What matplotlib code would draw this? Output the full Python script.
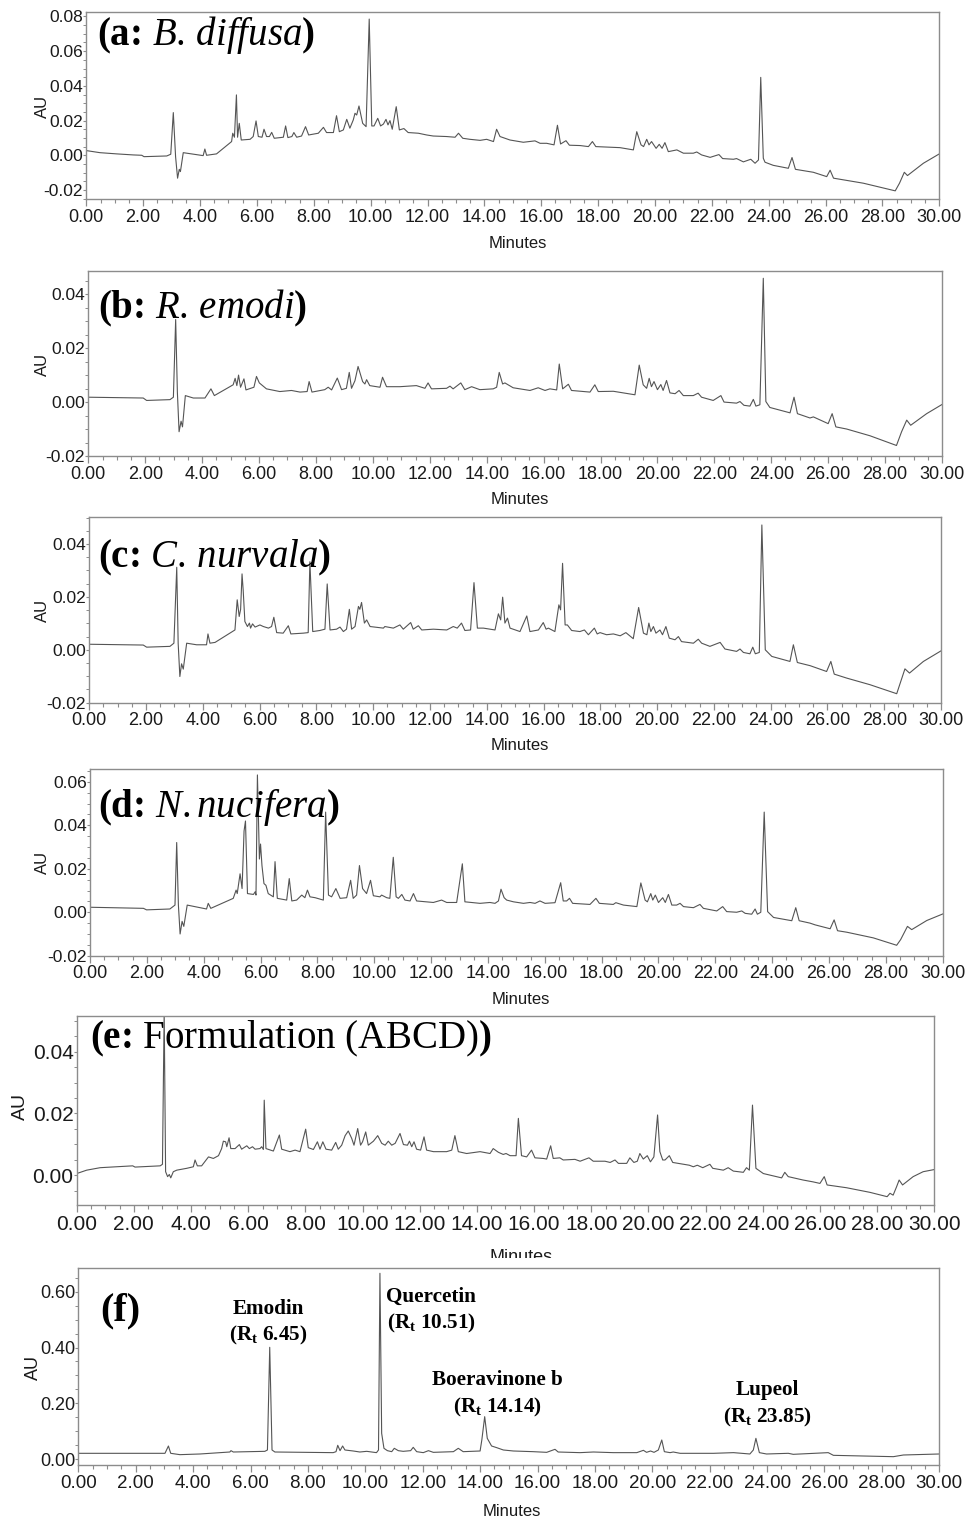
import matplotlib
matplotlib.use("Agg")
import matplotlib.pyplot as plt
from matplotlib.ticker import MultipleLocator, FuncFormatter
from matplotlib.patches import Rectangle

plt.rcParams["font.family"] = ["Liberation Sans", "DejaVu Sans"]
plt.rcParams["mathtext.fontset"] = "custom"
plt.rcParams["mathtext.rm"] = "Liberation Serif"
plt.rcParams["mathtext.it"] = "Liberation Serif:italic"
plt.rcParams["mathtext.bf"] = "Liberation Serif:bold"

# ---------------- data (retention time in minutes, absorbance in AU) ----------------
time_a = [0.00, 0.48, 1.07, 1.65, 1.95, 2.03, 2.83, 2.97, 3.06, 3.14,
          3.21, 3.27, 3.31, 3.41, 3.70, 4.11, 4.17, 4.23, 4.58, 5.11,
          5.15, 5.21, 5.28, 5.32, 5.38, 5.45, 5.76, 5.87, 5.97, 6.05,
          6.18, 6.25, 6.34, 6.44, 6.52, 6.61, 6.93, 7.01, 7.09, 7.23,
          7.30, 7.40, 7.57, 7.71, 7.82, 8.16, 8.34, 8.45, 8.69, 8.80,
          8.90, 9.04, 9.16, 9.27, 9.39, 9.45, 9.51, 9.59, 9.72, 9.84,
          9.95, 10.04, 10.12, 10.25, 10.35, 10.45, 10.54, 10.61, 10.68, 10.76,
          10.90, 11.01, 11.17, 11.32, 11.68, 11.97, 12.20, 12.67, 12.97, 13.09,
          13.24, 13.49, 13.85, 14.08, 14.32, 14.43, 14.55, 14.73, 14.90, 15.37,
          15.78, 15.96, 16.19, 16.45, 16.57, 16.68, 16.87, 16.99, 17.37, 17.66,
          17.80, 17.92, 18.77, 19.24, 19.36, 19.51, 19.60, 19.71, 19.79, 19.88,
          20.04, 20.15, 20.25, 20.35, 20.47, 20.77, 21.00, 21.35, 21.47, 21.64,
          21.94, 22.25, 22.38, 22.76, 22.87, 23.11, 23.37, 23.52, 23.64, 23.72,
          23.81, 23.87, 24.16, 24.69, 24.82, 24.94, 25.57, 26.04, 26.16, 26.28,
          27.33, 28.45, 28.60, 28.77, 28.88, 29.44, 30.00]
au_a = [0.0027, 0.0015, 0.0008, 0.0002, 0.0000, -0.0008, -0.0004, 0.0006, 0.0246, -0.0008,
        -0.0132, -0.0081, -0.0094, 0.0015, 0.0008, -0.0002, 0.0036, 0.0000, 0.0008, 0.0079,
        0.0127, 0.0104, 0.0348, 0.0104, 0.0184, 0.0088, 0.0092, 0.0108, 0.0198, 0.0108,
        0.0104, 0.0150, 0.0108, 0.0108, 0.0132, 0.0098, 0.0104, 0.0169, 0.0102, 0.0108,
        0.0131, 0.0104, 0.0111, 0.0165, 0.0117, 0.0127, 0.0161, 0.0131, 0.0131, 0.0228,
        0.0136, 0.0146, 0.0207, 0.0156, 0.0204, 0.0242, 0.0232, 0.0284, 0.0184, 0.0165,
        0.0785, 0.0169, 0.0169, 0.0213, 0.0169, 0.0180, 0.0207, 0.0175, 0.0200, 0.0150,
        0.0280, 0.0146, 0.0154, 0.0131, 0.0127, 0.0117, 0.0111, 0.0108, 0.0104, 0.0127,
        0.0098, 0.0092, 0.0086, 0.0092, 0.0079, 0.0150, 0.0108, 0.0098, 0.0088, 0.0075,
        0.0083, 0.0069, 0.0069, 0.0060, 0.0173, 0.0065, 0.0084, 0.0058, 0.0056, 0.0050,
        0.0079, 0.0050, 0.0044, 0.0031, 0.0136, 0.0060, 0.0050, 0.0092, 0.0060, 0.0079,
        0.0040, 0.0063, 0.0040, 0.0073, 0.0021, 0.0031, 0.0012, 0.0012, 0.0019, 0.0002,
        -0.0012, 0.0004, -0.0019, -0.0023, -0.0019, -0.0038, -0.0023, -0.0046, -0.0027, 0.0449,
        -0.0017, -0.0040, -0.0058, -0.0075, -0.0013, -0.0081, -0.0098, -0.0123, -0.0086, -0.0132,
        -0.0161, -0.0205, -0.0161, -0.0098, -0.0117, -0.0046, 0.0008]

time_b = [0.00, 1.93, 2.05, 2.87, 2.99, 3.07, 3.13, 3.19, 3.26, 3.31,
          3.41, 3.69, 4.10, 4.31, 4.43, 5.09, 5.16, 5.22, 5.28, 5.35,
          5.47, 5.54, 5.82, 5.91, 6.01, 6.26, 6.73, 7.14, 7.44, 7.69,
          7.76, 7.86, 8.31, 8.43, 8.55, 8.75, 8.90, 9.07, 9.17, 9.25,
          9.37, 9.48, 9.64, 9.72, 9.78, 9.89, 10.25, 10.34, 10.48, 10.95,
          11.53, 11.83, 11.94, 12.06, 12.59, 12.71, 12.82, 13.09, 13.23, 13.47,
          13.76, 14.23, 14.35, 14.44, 14.56, 14.64, 14.93, 15.52, 15.81, 16.05,
          16.22, 16.46, 16.55, 16.67, 16.87, 16.98, 17.63, 17.80, 17.92, 18.45,
          18.80, 19.21, 19.36, 19.50, 19.62, 19.71, 19.79, 19.88, 20.00, 20.12,
          20.20, 20.32, 20.44, 20.62, 20.76, 20.91, 21.26, 21.43, 21.55, 21.96,
          22.23, 22.34, 22.78, 22.90, 23.04, 23.25, 23.37, 23.46, 23.60, 23.72,
          23.81, 23.95, 24.66, 24.80, 24.92, 25.36, 25.48, 26.00, 26.14, 26.27,
          26.65, 27.47, 28.40, 28.58, 28.76, 28.90, 29.46, 30.00]
au_b = [0.0018, 0.0015, 0.0006, 0.0009, 0.0018, 0.0306, 0.0037, -0.0110, -0.0071, -0.0092,
        0.0024, 0.0015, 0.0015, 0.0049, 0.0024, 0.0064, 0.0088, 0.0061, 0.0100, 0.0055,
        0.0086, 0.0045, 0.0055, 0.0095, 0.0071, 0.0049, 0.0039, 0.0043, 0.0037, 0.0039,
        0.0076, 0.0037, 0.0046, 0.0055, 0.0045, 0.0089, 0.0046, 0.0051, 0.0110, 0.0051,
        0.0079, 0.0132, 0.0076, 0.0067, 0.0083, 0.0061, 0.0055, 0.0092, 0.0057, 0.0057,
        0.0061, 0.0051, 0.0071, 0.0049, 0.0051, 0.0059, 0.0049, 0.0071, 0.0046, 0.0057,
        0.0046, 0.0049, 0.0055, 0.0110, 0.0067, 0.0071, 0.0053, 0.0043, 0.0053, 0.0043,
        0.0049, 0.0045, 0.0141, 0.0049, 0.0066, 0.0043, 0.0037, 0.0064, 0.0039, 0.0040,
        0.0034, 0.0027, 0.0137, 0.0064, 0.0051, 0.0088, 0.0057, 0.0076, 0.0046, 0.0065,
        0.0043, 0.0080, 0.0034, 0.0031, 0.0043, 0.0024, 0.0024, 0.0033, 0.0018, 0.0006,
        0.0024, 0.0000, -0.0004, 0.0002, -0.0012, -0.0015, 0.0010, -0.0015, -0.0010, 0.0459,
        0.0002, -0.0020, -0.0040, 0.0018, -0.0043, -0.0059, -0.0055, -0.0080, -0.0043, -0.0092,
        -0.0100, -0.0125, -0.0161, -0.0110, -0.0067, -0.0086, -0.0043, -0.0009]

time_c = [0.00, 1.90, 2.02, 2.84, 2.98, 3.08, 3.13, 3.19, 3.25, 3.31,
          3.43, 3.78, 4.13, 4.18, 4.25, 4.43, 5.13, 5.21, 5.28, 5.33,
          5.38, 5.42, 5.48, 5.57, 5.64, 5.68, 5.75, 5.84, 6.01, 6.13,
          6.31, 6.42, 6.50, 6.60, 6.83, 7.01, 7.10, 7.54, 7.71, 7.77,
          7.87, 8.12, 8.30, 8.38, 8.48, 8.71, 8.83, 8.95, 9.06, 9.16,
          9.24, 9.36, 9.48, 9.53, 9.59, 9.69, 9.77, 9.89, 10.36, 10.41,
          10.71, 10.94, 11.06, 11.32, 11.41, 11.59, 11.71, 12.12, 12.59, 12.82,
          12.96, 13.11, 13.23, 13.43, 13.55, 13.67, 13.76, 13.88, 14.29, 14.41,
          14.49, 14.56, 14.64, 14.73, 14.82, 15.17, 15.41, 15.52, 15.82, 15.99,
          16.09, 16.17, 16.40, 16.54, 16.60, 16.67, 16.76, 16.84, 16.99, 17.28,
          17.44, 17.58, 17.79, 17.89, 17.99, 18.22, 18.46, 18.70, 18.90, 19.16,
          19.35, 19.52, 19.64, 19.71, 19.78, 19.87, 19.96, 20.10, 20.19, 20.31,
          20.43, 20.63, 20.75, 20.86, 21.28, 21.45, 21.57, 21.86, 22.22, 22.39,
          22.80, 22.92, 23.04, 23.27, 23.37, 23.46, 23.60, 23.69, 23.81, 24.04,
          24.68, 24.80, 24.94, 25.39, 25.97, 26.12, 26.24, 26.68, 27.50, 28.44,
          28.58, 28.73, 28.89, 29.38, 30.00]
au_c = [0.0021, 0.0018, 0.0010, 0.0013, 0.0025, 0.0312, 0.0025, -0.0101, -0.0053, -0.0073,
        0.0025, 0.0019, 0.0019, 0.0060, 0.0025, 0.0028, 0.0075, 0.0189, 0.0126, 0.0153,
        0.0287, 0.0226, 0.0107, 0.0088, 0.0101, 0.0082, 0.0098, 0.0086, 0.0094, 0.0088,
        0.0082, 0.0088, 0.0123, 0.0065, 0.0063, 0.0091, 0.0060, 0.0063, 0.0065, 0.0333,
        0.0069, 0.0073, 0.0078, 0.0249, 0.0075, 0.0078, 0.0086, 0.0069, 0.0078, 0.0153,
        0.0078, 0.0088, 0.0164, 0.0153, 0.0179, 0.0101, 0.0113, 0.0088, 0.0082, 0.0088,
        0.0082, 0.0094, 0.0078, 0.0103, 0.0078, 0.0091, 0.0075, 0.0078, 0.0075, 0.0088,
        0.0082, 0.0101, 0.0073, 0.0075, 0.0254, 0.0082, 0.0082, 0.0082, 0.0075, 0.0136,
        0.0113, 0.0199, 0.0101, 0.0120, 0.0082, 0.0069, 0.0128, 0.0069, 0.0075, 0.0103,
        0.0078, 0.0082, 0.0069, 0.0170, 0.0151, 0.0327, 0.0094, 0.0094, 0.0073, 0.0069,
        0.0075, 0.0057, 0.0082, 0.0060, 0.0065, 0.0057, 0.0060, 0.0053, 0.0065, 0.0042,
        0.0160, 0.0063, 0.0057, 0.0101, 0.0069, 0.0088, 0.0063, 0.0075, 0.0057, 0.0088,
        0.0044, 0.0038, 0.0050, 0.0031, 0.0025, 0.0040, 0.0025, 0.0013, 0.0028, 0.0003,
        -0.0006, 0.0003, -0.0010, -0.0015, 0.0010, -0.0015, -0.0010, 0.0472, 0.0000, -0.0025,
        -0.0044, 0.0019, -0.0048, -0.0060, -0.0082, -0.0044, -0.0092, -0.0107, -0.0132, -0.0166,
        -0.0120, -0.0072, -0.0088, -0.0044, -0.0004]

time_d = [0.00, 1.88, 1.99, 2.81, 2.99, 3.05, 3.11, 3.17, 3.24, 3.30,
          3.42, 3.87, 4.10, 4.16, 4.25, 5.04, 5.14, 5.18, 5.28, 5.35,
          5.42, 5.47, 5.54, 5.75, 5.81, 5.84, 5.89, 5.96, 6.00, 6.05,
          6.12, 6.19, 6.27, 6.45, 6.51, 6.59, 6.92, 7.01, 7.10, 7.27,
          7.45, 7.56, 7.65, 7.74, 7.92, 8.21, 8.29, 8.39, 8.50, 8.65,
          8.80, 9.03, 9.17, 9.26, 9.38, 9.48, 9.59, 9.73, 9.87, 9.97,
          10.20, 10.26, 10.44, 10.55, 10.67, 10.77, 10.85, 10.97, 11.08, 11.26,
          11.38, 11.49, 12.08, 12.37, 12.55, 12.90, 13.10, 13.19, 13.49, 13.72,
          14.07, 14.25, 14.37, 14.46, 14.57, 14.66, 14.90, 15.25, 15.48, 15.66,
          15.83, 16.01, 16.36, 16.56, 16.65, 16.77, 16.87, 16.98, 17.59, 17.80,
          17.92, 18.41, 18.50, 18.77, 19.24, 19.38, 19.53, 19.61, 19.73, 19.80,
          19.89, 20.00, 20.15, 20.24, 20.35, 20.47, 20.64, 20.76, 20.88, 21.23,
          21.46, 21.58, 22.05, 22.26, 22.40, 22.75, 22.93, 23.05, 23.28, 23.40,
          23.48, 23.60, 23.72, 23.84, 24.05, 24.69, 24.83, 24.95, 25.33, 25.51,
          26.04, 26.18, 26.30, 26.63, 27.56, 28.38, 28.52, 28.76, 28.91, 29.44,
          30.00]
au_d = [0.0023, 0.0018, 0.0011, 0.0015, 0.0033, 0.0321, 0.0033, -0.0100, -0.0042, -0.0065,
        0.0033, 0.0021, 0.0015, 0.0041, 0.0018, 0.0064, 0.0102, 0.0086, 0.0177, 0.0109,
        0.0374, 0.0420, 0.0086, 0.0082, 0.0094, 0.0079, 0.0632, 0.0245, 0.0314, 0.0215,
        0.0132, 0.0124, 0.0086, 0.0071, 0.0233, 0.0064, 0.0056, 0.0155, 0.0052, 0.0056,
        0.0079, 0.0067, 0.0102, 0.0071, 0.0067, 0.0056, 0.0461, 0.0079, 0.0071, 0.0109,
        0.0064, 0.0067, 0.0147, 0.0064, 0.0079, 0.0215, 0.0109, 0.0086, 0.0147, 0.0076,
        0.0071, 0.0079, 0.0067, 0.0064, 0.0253, 0.0071, 0.0064, 0.0082, 0.0056, 0.0052,
        0.0086, 0.0052, 0.0045, 0.0056, 0.0045, 0.0045, 0.0223, 0.0048, 0.0044, 0.0041,
        0.0045, 0.0041, 0.0052, 0.0106, 0.0067, 0.0056, 0.0048, 0.0041, 0.0045, 0.0041,
        0.0052, 0.0041, 0.0044, 0.0136, 0.0052, 0.0052, 0.0064, 0.0041, 0.0036, 0.0064,
        0.0041, 0.0036, 0.0044, 0.0033, 0.0026, 0.0135, 0.0056, 0.0048, 0.0086, 0.0056,
        0.0079, 0.0045, 0.0067, 0.0045, 0.0082, 0.0033, 0.0033, 0.0041, 0.0026, 0.0021,
        0.0036, 0.0018, 0.0006, 0.0026, 0.0003, 0.0000, 0.0006, -0.0005, -0.0009, 0.0015,
        -0.0009, 0.0000, 0.0461, 0.0003, -0.0024, -0.0039, 0.0021, -0.0039, -0.0050, -0.0058,
        -0.0076, -0.0035, -0.0085, -0.0092, -0.0118, -0.0152, -0.0126, -0.0065, -0.0080, -0.0038,
        -0.0008]

time_e = [0.00, 0.35, 0.82, 1.40, 1.96, 2.04, 2.92, 3.00, 3.06, 3.11,
          3.18, 3.24, 3.29, 3.38, 3.50, 3.85, 4.08, 4.14, 4.22, 4.37,
          4.61, 4.78, 4.96, 5.07, 5.13, 5.21, 5.25, 5.33, 5.39, 5.54,
          5.69, 5.77, 5.95, 6.04, 6.15, 6.24, 6.41, 6.47, 6.53, 6.56,
          6.62, 6.88, 7.09, 7.17, 7.46, 7.64, 7.81, 8.01, 8.10, 8.28,
          8.42, 8.51, 8.61, 8.72, 8.92, 9.06, 9.15, 9.27, 9.39, 9.50,
          9.62, 9.70, 9.83, 9.93, 10.00, 10.11, 10.20, 10.38, 10.53, 10.67,
          10.79, 10.90, 11.02, 11.14, 11.31, 11.43, 11.57, 11.64, 11.72, 11.80,
          11.89, 12.03, 12.15, 12.24, 12.48, 12.94, 13.12, 13.23, 13.35, 13.64,
          14.11, 14.46, 14.57, 14.75, 14.92, 15.02, 15.16, 15.37, 15.45, 15.56,
          15.74, 15.91, 16.03, 16.32, 16.44, 16.58, 16.67, 16.90, 17.02, 17.43,
          17.61, 17.92, 18.07, 18.48, 18.66, 18.83, 18.95, 19.24, 19.35, 19.49,
          19.61, 19.70, 19.82, 19.96, 20.07, 20.19, 20.32, 20.40, 20.50, 20.58,
          20.73, 20.85, 21.04, 21.22, 21.43, 21.57, 21.71, 21.90, 22.15, 22.25,
          22.62, 22.79, 22.97, 23.32, 23.43, 23.53, 23.64, 23.76, 24.02, 24.66,
          24.77, 24.89, 25.41, 25.76, 26.00, 26.15, 26.25, 26.93, 27.75, 28.35,
          28.45, 28.56, 28.68, 28.77, 28.89, 29.26, 29.61, 30.00]
au_e = [0.0005, 0.0016, 0.0024, 0.0027, 0.0030, 0.0026, 0.0030, 0.0035, 0.0530, 0.0011,
        -0.0005, 0.0002, -0.0009, 0.0011, 0.0016, 0.0022, 0.0027, 0.0049, 0.0030, 0.0030,
        0.0059, 0.0054, 0.0063, 0.0086, 0.0110, 0.0108, 0.0092, 0.0121, 0.0086, 0.0086,
        0.0099, 0.0084, 0.0095, 0.0086, 0.0092, 0.0084, 0.0086, 0.0092, 0.0083, 0.0243,
        0.0086, 0.0078, 0.0130, 0.0084, 0.0076, 0.0081, 0.0076, 0.0149, 0.0089, 0.0083,
        0.0108, 0.0084, 0.0108, 0.0084, 0.0081, 0.0106, 0.0084, 0.0097, 0.0128, 0.0143,
        0.0119, 0.0097, 0.0151, 0.0097, 0.0108, 0.0140, 0.0097, 0.0110, 0.0128, 0.0103,
        0.0097, 0.0110, 0.0097, 0.0103, 0.0135, 0.0099, 0.0097, 0.0110, 0.0092, 0.0108,
        0.0084, 0.0081, 0.0124, 0.0081, 0.0076, 0.0076, 0.0081, 0.0128, 0.0076, 0.0070,
        0.0076, 0.0070, 0.0086, 0.0074, 0.0067, 0.0070, 0.0063, 0.0063, 0.0184, 0.0063,
        0.0059, 0.0081, 0.0056, 0.0054, 0.0052, 0.0095, 0.0054, 0.0056, 0.0049, 0.0051,
        0.0045, 0.0056, 0.0045, 0.0045, 0.0041, 0.0049, 0.0038, 0.0038, 0.0056, 0.0041,
        0.0045, 0.0070, 0.0052, 0.0063, 0.0043, 0.0059, 0.0195, 0.0076, 0.0049, 0.0049,
        0.0063, 0.0041, 0.0038, 0.0035, 0.0032, 0.0027, 0.0032, 0.0024, 0.0035, 0.0022,
        0.0016, 0.0024, 0.0013, 0.0009, 0.0024, 0.0016, 0.0227, 0.0022, 0.0005, -0.0009,
        0.0009, -0.0005, -0.0016, -0.0022, -0.0027, -0.0005, -0.0032, -0.0041, -0.0056, -0.0070,
        -0.0059, -0.0065, -0.0038, -0.0016, -0.0032, -0.0005, 0.0011, 0.0018]

time_f = [0.00, 3.02, 3.14, 3.22, 3.54, 4.24, 5.28, 5.32, 5.40, 6.50,
          6.59, 6.67, 6.75, 6.85, 8.88, 8.98, 9.04, 9.12, 9.21, 9.29,
          9.58, 9.81, 10.05, 10.39, 10.46, 10.51, 10.57, 10.65, 10.77, 10.92,
          11.01, 11.15, 11.32, 11.58, 11.67, 11.79, 12.02, 12.20, 12.37, 13.07,
          13.24, 13.41, 14.00, 14.06, 14.16, 14.25, 14.40, 14.58, 14.81, 15.16,
          15.85, 16.32, 16.61, 16.72, 17.48, 17.95, 18.64, 19.46, 19.69, 19.80,
          19.94, 20.06, 20.21, 20.33, 20.42, 20.62, 20.73, 20.97, 22.13, 22.83,
          23.40, 23.52, 23.61, 23.73, 23.98, 24.74, 24.91, 26.13, 26.31, 27.35,
          28.40, 28.75, 30.00]
au_f = [0.0215, 0.0215, 0.0477, 0.0215, 0.0167, 0.0191, 0.0262, 0.0310, 0.0262, 0.0286,
        0.0334, 0.4007, 0.0334, 0.0262, 0.0239, 0.0274, 0.0501, 0.0310, 0.0477, 0.0334,
        0.0298, 0.0262, 0.0286, 0.0239, 0.0334, 0.6655, 0.0930, 0.0394, 0.0310, 0.0274,
        0.0394, 0.0310, 0.0286, 0.0310, 0.0429, 0.0274, 0.0239, 0.0310, 0.0250, 0.0274,
        0.0394, 0.0274, 0.0298, 0.0692, 0.1526, 0.0751, 0.0477, 0.0417, 0.0334, 0.0298,
        0.0274, 0.0250, 0.0358, 0.0262, 0.0239, 0.0262, 0.0239, 0.0239, 0.0322, 0.0250,
        0.0298, 0.0250, 0.0334, 0.0692, 0.0274, 0.0239, 0.0262, 0.0215, 0.0215, 0.0239,
        0.0191, 0.0334, 0.0751, 0.0239, 0.0191, 0.0215, 0.0179, 0.0239, 0.0143, 0.0119,
        0.0095, 0.0155, 0.0191]

panel_titles = [r"(a: $\mathit{B.\,diffusa}$)", r"(b: $\mathit{R.\,emodi}$)",
                r"(c: $\mathit{C.\,nurvala}$)", r"(d: $\mathit{N.nucifera}$)",
                r"(e: $\mathrm{Formulation\ (ABCD)}$)", "(f)"]
marker_names = ["Emodin", "Quercetin", "Boeravinone b", "Lupeol"]
marker_rt = [r"(R$_\mathbf{t}$ 6.45)", r"(R$_\mathbf{t}$ 10.51)",
             r"(R$_\mathbf{t}$ 14.14)", r"(R$_\mathbf{t}$ 23.85)"]

# ---------------- layout ----------------
W, H = 967, 1518
fig = plt.figure(figsize=(W / 100, H / 100), dpi=100)
fig.patch.set_facecolor("white")

LINE = "#555555"
SPINE = "#8c8c8c"
TXT = "#1a1a1a"
fmt = FuncFormatter(lambda v, p: f"{round(v, 4) + 0.0:.2f}")


def fx(x):
    return x / W


def fy(y):
    return 1 - y / H


def add_panel(box, times, values, ylim, ystep, yminor, xfs, yfs):
    l, t, r, b = box
    ax = fig.add_axes([l / W, 1 - b / H, (r - l) / W, (b - t) / H])
    ax.plot(times, values, color=LINE, lw=0.8)
    ax.set_xlim(0, 30)
    ax.set_ylim(*ylim)
    ax.xaxis.set_major_locator(MultipleLocator(2))
    ax.xaxis.set_minor_locator(MultipleLocator(0.5))
    ax.yaxis.set_major_locator(MultipleLocator(ystep))
    ax.yaxis.set_minor_locator(MultipleLocator(yminor))
    ax.xaxis.set_major_formatter(fmt)
    ax.yaxis.set_major_formatter(fmt)
    for s in ax.spines.values():
        s.set_color(SPINE)
        s.set_linewidth(1.0)
    ax.tick_params(axis="x", which="major", direction="out", length=5, width=0.9,
                   color=SPINE, labelsize=xfs, pad=2.0, labelcolor=TXT)
    ax.tick_params(axis="x", which="minor", direction="out", length=3, width=0.8, color=SPINE)
    ax.tick_params(axis="y", which="major", direction="out", length=2, width=0.8,
                   color=SPINE, labelsize=yfs, pad=0.3, labelcolor=TXT)
    ax.tick_params(axis="y", which="minor", direction="out", length=2, width=0.7, color=SPINE)
    return ax


panels = [
    dict(box=(86.3, 12.3, 939.3, 199), t=time_a, v=au_a, ylim=(-0.0252, 0.0824),
         ystep=0.02, yminor=0.005, xfs=13, yfs=12.5, title=(97, 45, 28),
         au=(42, 106, 12), minutes=(518, 243, 12)),
    dict(box=(88.3, 271, 942, 456), t=time_b, v=au_b, ylim=(-0.02, 0.0486),
         ystep=0.02, yminor=0.005, xfs=13, yfs=12.5, title=(98, 318, 28),
         au=(42, 364, 12), minutes=(520, 499, 12)),
    dict(box=(89.3, 517.3, 941, 702.7), t=time_c, v=au_c, ylim=(-0.02, 0.0501),
         ystep=0.02, yminor=0.005, xfs=13, yfs=12.5, title=(98, 567, 28),
         au=(42, 610, 12), minutes=(520, 746, 12)),
    dict(box=(90, 769.3, 942.7, 955.7), t=time_d, v=au_d, ylim=(-0.02, 0.0658),
         ystep=0.02, yminor=0.005, xfs=13, yfs=12.5, title=(98, 817, 28),
         au=(42, 862, 12), minutes=(521, 999, 12)),
    dict(box=(76.7, 1016, 934.3, 1205), t=time_e, v=au_e, ylim=(-0.0097, 0.0516),
         ystep=0.02, yminor=0.005, xfs=15, yfs=15, title=(90, 1048, 28),
         au=(20, 1106, 14), minutes=(521, 1258, 13)),
    dict(box=(78.3, 1268.3, 939.3, 1465), t=time_f, v=au_f, ylim=(-0.0203, 0.6834),
         ystep=0.2, yminor=0.05, xfs=13.5, yfs=13, title=(100, 1320, 29),
         au=(33, 1368, 13), minutes=(512, 1512, 12)),
]

axes = []
for p, ttl in zip(panels, panel_titles):
    ax = add_panel(p["box"], p["t"], p["v"], p["ylim"], p["ystep"], p["yminor"],
                   p["xfs"], p["yfs"])
    axes.append(ax)
    tx, ty, tfs = p["title"]
    fig.text(fx(tx), fy(ty), ttl, fontsize=tfs, family="Liberation Serif",
             weight="bold", ha="left", va="baseline", color="black")
    axx, axy, afs = p["au"]
    fig.text(fx(axx), fy(axy), "AU", fontsize=afs, rotation=90, ha="center",
             va="center", color=TXT)
    mx, my, mfs = p["minutes"]
    fig.text(fx(mx), fy(my), "Minutes", fontsize=mfs, ha="center", va="center", color=TXT)

# compound annotations for the standard mix (panel f)
name_pos = [(268, 1314), (431, 1302), (497, 1385), (767, 1395)]
rt_pos = [(268, 1340), (431, 1328), (497, 1412), (767, 1422)]
for name, rt, (nx, ny), (rx, ry) in zip(marker_names, marker_rt, name_pos, rt_pos):
    fig.text(fx(nx), fy(ny), name, fontsize=15.2, family="Liberation Serif",
             weight="bold", ha="center", va="baseline", color="black")
    fig.text(fx(rx), fy(ry), rt, fontsize=15.2, family="Liberation Serif",
             weight="bold", ha="center", va="baseline", color="black")

# the collage crops hide parts of two "Minutes" labels
fig.add_artist(Rectangle((fx(470), fy(1012)), 110 / W, 7 / H, transform=fig.transFigure,
                         facecolor="white", edgecolor="none", zorder=20))
fig.add_artist(Rectangle((fx(470), fy(1266.5)), 110 / W, 9 / H, transform=fig.transFigure,
                         facecolor="white", edgecolor="none", zorder=20))

fig.savefig("out.png", dpi=100)
